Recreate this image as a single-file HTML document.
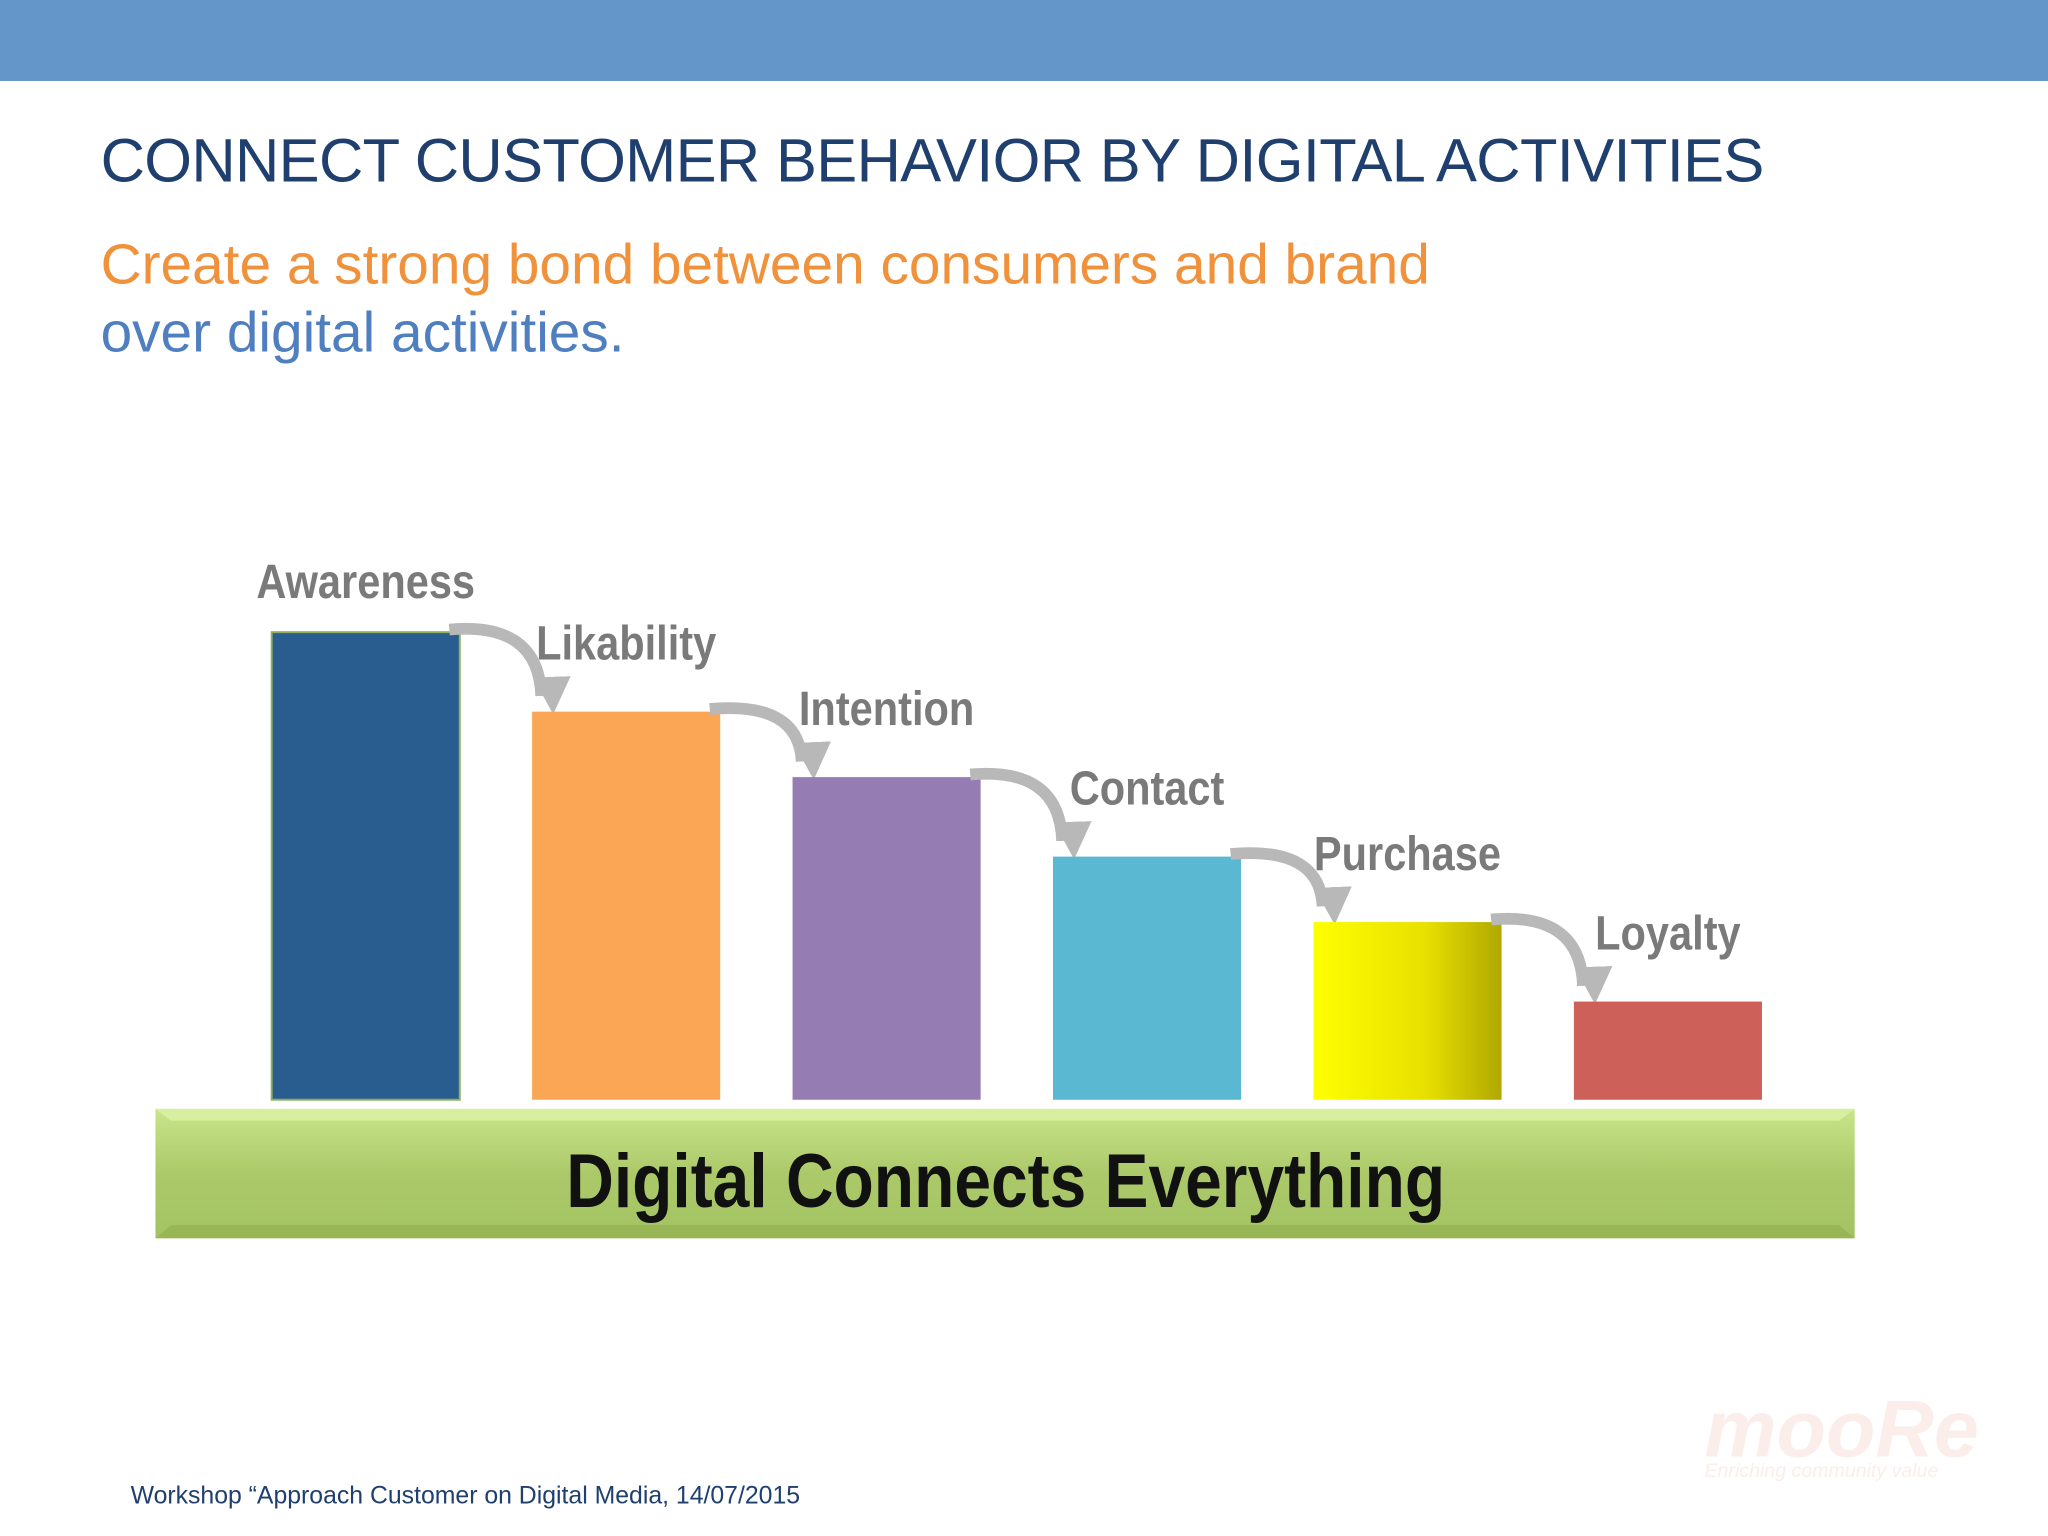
<!DOCTYPE html>
<html><head><meta charset="utf-8"><style>
html,body{margin:0;padding:0;background:#fff;}
svg{display:block;}
</style></head><body>
<svg id="chart" width="2048" height="1536" viewBox="0 0 1568 1176" xmlns="http://www.w3.org/2000/svg" font-family="Liberation Sans, sans-serif">
<defs>
<linearGradient id="gG" x1="0" y1="0" x2="0" y2="1"><stop offset="0" stop-color="#c9e58a"/><stop offset="0.5" stop-color="#acc96a"/><stop offset="1" stop-color="#a3c463"/></linearGradient>
<linearGradient id="gY" x1="0" y1="0" x2="1" y2="0"><stop offset="0" stop-color="#ffff00"/><stop offset="0.6" stop-color="#e8e000"/><stop offset="1" stop-color="#b0a800"/></linearGradient>
<marker id="ah" viewBox="0 0 10 10" refX="5" refY="8" markerWidth="3.2" markerHeight="3.2" orient="auto"><path d="M0,0 L10,5 L0,10 z" fill="#b8b8b8"/></marker>
</defs>
<rect x="0" y="0" width="1568" height="62" fill="#6596ca"/>
<text x="77" y="139" font-size="47" fill="#1f3f6e" letter-spacing="-0.5">CONNECT CUSTOMER BEHAVIOR BY DIGITAL ACTIVITIES</text>
<text x="77" y="217" font-size="43.5" fill="#f0913c">Create a strong bond between consumers and brand</text>
<text x="77" y="269" font-size="43.5" fill="#4f7fbf">over digital activities.</text>
<g id="bars"></g>
<g>
<rect x="119" y="849" width="1301" height="99" fill="url(#gG)"/>
<polygon points="119,849 1420,849 1408,858 131,858" fill="#d8efa0"/>
<polygon points="119,948 1420,948 1408,938 131,938" fill="#98b656"/>
<text x="770" y="924" font-size="58" font-weight="bold" text-anchor="middle" fill="#111" transform="translate(770 0) scale(0.87 1) translate(-770 0)">Digital Connects Everything</text>
</g>
<text x="100" y="1151" font-size="19" fill="#1f3f6e">Workshop “Approach Customer on Digital Media, 14/07/2015</text>
<g opacity="0.18">
<text x="1305" y="1115" font-size="62" font-weight="bold" fill="#e8a090" font-style="italic">mooRe</text>
<text x="1305" y="1131" font-size="15" fill="#e8a090" font-style="italic">Enriching community value</text>
</g>
</svg>
<script>
const categories = ["Awareness","Likability","Intention","Contact","Purchase","Loyalty"];
const values = [100, 83, 69, 52, 38, 21];
const colors = ["#2a5d8f","#fba654","#957cb2","#5ab8d3","url(#gY)","#cd6159"];
const NS = "http://www.w3.org/2000/svg";
const baseY = 842, pxPerUnit = 3.58, x0 = 208, step = 199.4, bw = 144;
function xPos(i){ return x0 + i*step; }
function yPos(v){ return baseY - v*pxPerUnit; }
const g = document.getElementById('bars');
categories.forEach((c,i)=>{
  const y = yPos(values[i]);
  const r = document.createElementNS(NS,'rect');
  
  
  r.setAttribute('x',xPos(i)); r.setAttribute('y',y);
  r.setAttribute('width',bw); r.setAttribute('height',baseY-y);
  r.setAttribute('fill',colors[i]);
  if(i===0){ r.setAttribute('stroke','#8fb060'); r.setAttribute('stroke-width','1.5'); }
  g.appendChild(r);
  const t = document.createElementNS(NS,'text');
  
  
  const cx = xPos(i)+bw/2;
  t.setAttribute('x',cx); t.setAttribute('y',y-(i===0?26:40));
  t.setAttribute('font-size','37'); t.setAttribute('font-weight','bold');
  t.setAttribute('fill','#7a7a7a'); t.setAttribute('text-anchor','middle');
  t.setAttribute('transform',`translate(${cx} 0) scale(0.86 1) translate(${-cx} 0)`);
  t.textContent = c;
  g.appendChild(t);
  if(i < categories.length-1){
    const ny = yPos(values[i+1]);
    const sx = xPos(i)+bw-8, sy = y-2, ex = xPos(i+1)+7, ey = ny-12;
    const p = document.createElementNS(NS,'path');
    
    
    p.setAttribute('d',`M${sx},${sy} Q${ex-2},${sy-6} ${ex},${ey}`);
    p.setAttribute('fill','none'); p.setAttribute('stroke','#b8b8b8');
    p.setAttribute('stroke-width','9'); p.setAttribute('marker-end','url(#ah)');
    g.appendChild(p);
  }
});
</script>
</body></html>
